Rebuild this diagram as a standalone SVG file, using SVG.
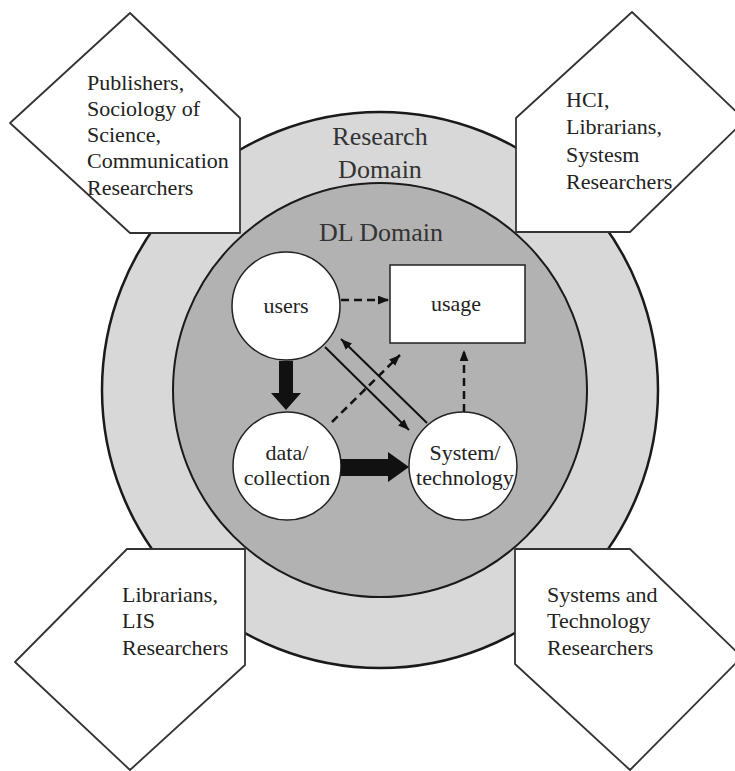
<svg xmlns="http://www.w3.org/2000/svg" width="735" height="771" viewBox="0 0 735 771">
  <defs>
    <style>
      text { font-family: "Liberation Serif", "Times New Roman", serif; fill: #222; }
      .lbl { font-size: 22px; }
      .dom { font-size: 26px; fill: #333; text-anchor: middle; }
      .node { fill: #fff; stroke: #222; stroke-width: 1.5; }
      .pent { fill: #fff; stroke: #333; stroke-width: 1.8; stroke-linejoin: round; }
      .c { text-anchor: middle; }
      .dash { stroke: #111; stroke-width: 2.5; stroke-dasharray: 8 5; fill: none; }
      .solid { stroke: #111; stroke-width: 2; fill: none; }
      .thick { fill: #111; }
    </style>
    <marker id="ah" viewBox="0 0 10 8" refX="10" refY="4" markerWidth="11" markerHeight="9" markerUnits="userSpaceOnUse" orient="auto">
      <path d="M0,0 L10,4 L0,8 z" fill="#111"/>
    </marker>
  </defs>
  <rect width="735" height="771" fill="#fff"/>

  <g id="research-domain">
    <circle cx="380" cy="390" r="278" fill="#d8d8d8" stroke="#1a1a1a" stroke-width="2.5"/>
    <text class="dom" x="380" y="145">Research</text>
    <text class="dom" x="380" y="178">Domain</text>
  </g>
  <g id="dl-domain">
    <circle cx="380" cy="390" r="207" fill="#b2b2b2" stroke="#1a1a1a" stroke-width="2"/>
    <text class="dom" x="381" y="241">DL Domain</text>
  </g>

  <g id="pent-tl">
    <polygon class="pent" points="130,13 240,118 240,233 130,233 10,123"/>
    <text class="lbl" x="87" y="90">Publishers,</text>
    <text class="lbl" x="87" y="116">Sociology of</text>
    <text class="lbl" x="87" y="142">Science,</text>
    <text class="lbl" x="87" y="168">Communication</text>
    <text class="lbl" x="87" y="195">Researchers</text>
  </g>
  <g id="pent-tr">
    <polygon class="pent" points="632,12 745,120 630,232 516,232 516,118"/>
    <text class="lbl" x="566" y="107">HCI,</text>
    <text class="lbl" x="566" y="134">Librarians,</text>
    <text class="lbl" x="566" y="162">Systesm</text>
    <text class="lbl" x="566" y="189">Researchers</text>
  </g>
  <g id="pent-bl">
    <polygon class="pent" points="127,549 245,549 245,665 130,770 15,662"/>
    <text class="lbl" x="122" y="602">Librarians,</text>
    <text class="lbl" x="122" y="628">LIS</text>
    <text class="lbl" x="122" y="655">Researchers</text>
  </g>
  <g id="pent-br">
    <polygon class="pent" points="515,549 630,549 742,657 630,770 515,664"/>
    <text class="lbl" x="547" y="602">Systems and</text>
    <text class="lbl" x="547" y="628">Technology</text>
    <text class="lbl" x="547" y="655">Researchers</text>
  </g>

  <g id="users">
    <circle class="node" cx="286" cy="306" r="54"/>
    <text class="lbl c" x="286" y="313">users</text>
  </g>
  <g id="usage">
    <rect class="node" x="390" y="265" width="135" height="78"/>
    <text class="lbl c" x="456" y="311">usage</text>
  </g>
  <g id="data-collection">
    <circle class="node" cx="287" cy="466" r="54"/>
    <text class="lbl c" x="287" y="460">data/</text>
    <text class="lbl c" x="287" y="485">collection</text>
  </g>
  <g id="system-technology">
    <circle class="node" cx="463" cy="466" r="54"/>
    <text class="lbl c" x="465" y="460">System/</text>
    <text class="lbl c" x="465" y="485">technology</text>
  </g>

  <g id="connectors">
    <polygon class="thick" points="279,361 293,361 293,393 301,393 286,410 271,393 279,393"/>
    <polygon class="thick" points="341,459 388,459 388,452 409,467 388,482 388,476 341,476"/>
    <line class="dash" x1="341" y1="300" x2="389" y2="300" marker-end="url(#ah)"/>
    <line class="solid" x1="325" y1="347" x2="409" y2="430" marker-end="url(#ah)"/>
    <line class="solid" x1="427" y1="423" x2="341" y2="339" marker-end="url(#ah)"/>
    <line class="dash" x1="332" y1="422" x2="400" y2="355" marker-end="url(#ah)"/>
    <line class="dash" x1="464" y1="412" x2="464" y2="350" marker-end="url(#ah)"/>
  </g>
</svg>
